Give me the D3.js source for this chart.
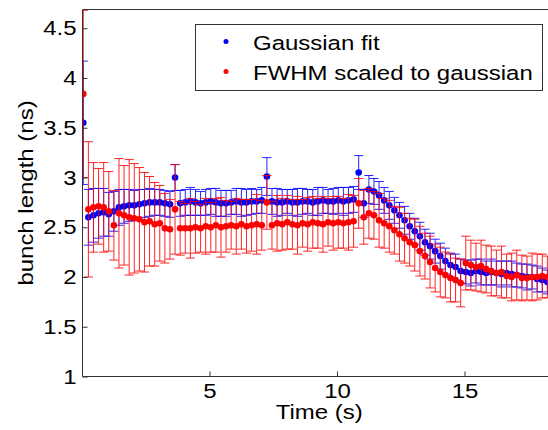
<!DOCTYPE html>
<html>
<head>
<meta charset="utf-8">
<script src="https://cdn.jsdelivr.net/npm/d3@7"></script>
<style>
  html, body { margin: 0; padding: 0; background: #fff; }
  svg { display: block; font-family: "Liberation Sans", Arial, sans-serif; }
</style>
</head>
<body>
<svg id="chart" width="548" height="430"></svg>
<script>
// ---- data ----
const time = [0.05,0.25,0.45,0.65,0.85,1.05,1.25,1.45,1.65,1.85,2.05,2.25,2.45,2.65,2.85,3.05,3.25,3.45,3.65,3.85,
  4.05,4.25,4.45,4.65,4.85,5.05,5.25,5.45,5.65,5.85,6.05,6.25,6.45,6.65,6.85,7.05,7.25,7.45,7.65,7.85,
  8.05,8.25,8.45,8.65,8.85,9.05,9.25,9.45,9.65,9.85,10.05,10.25,10.45,10.65,10.85,11.05,11.25,11.45,11.65,11.85,
  12.05,12.25,12.45,12.65,12.85,13.05,13.25,13.45,13.65,13.85,14.05,14.25,14.45,14.65,14.85,15.05,15.25,15.45,15.65,15.85,
  16.05,16.25,16.45,16.65,16.85,17.05,17.25,17.45,17.65,17.85,18.05,18.25];

const gaussFit = [3.55,2.60,2.62,2.64,2.65,2.63,2.66,2.70,2.71,2.72,2.72,2.73,2.74,2.75,2.75,2.75,2.74,2.73,3.00,2.74,
  2.75,2.76,2.75,2.74,2.75,2.76,2.75,2.74,2.74,2.75,2.76,2.75,2.75,2.76,2.76,2.77,3.01,2.76,2.75,2.75,
  2.76,2.75,2.75,2.76,2.76,2.75,2.76,2.77,2.76,2.76,2.77,2.76,2.77,2.78,3.05,2.74,2.88,2.86,2.82,2.77,
  2.72,2.67,2.62,2.57,2.51,2.46,2.41,2.35,2.31,2.26,2.21,2.16,2.12,2.10,2.06,2.05,2.04,2.06,2.05,2.04,
  2.05,2.04,2.03,2.04,2.03,2.02,2.01,2.00,2.00,1.98,1.97,1.95];
const gaussErr = [0.62,0.28,0.27,0.25,0.24,0.22,0.20,0.18,0.17,0.16,0.15,0.15,0.14,0.14,0.13,0.13,0.13,0.13,0.13,0.13,
  0.13,0.14,0.13,0.12,0.13,0.13,0.14,0.13,0.13,0.12,0.13,0.14,0.13,0.13,0.12,0.13,0.19,0.13,0.14,0.13,
  0.12,0.13,0.14,0.13,0.12,0.13,0.14,0.13,0.12,0.13,0.13,0.14,0.13,0.13,0.17,0.14,0.14,0.13,0.14,0.13,
  0.14,0.13,0.13,0.14,0.13,0.13,0.14,0.13,0.13,0.12,0.13,0.13,0.12,0.13,0.12,0.12,0.13,0.12,0.13,0.12,
  0.13,0.12,0.13,0.12,0.13,0.12,0.12,0.13,0.12,0.13,0.12,0.12];

const fwhm = [3.84,2.68,2.70,2.71,2.70,2.66,2.52,2.64,2.62,2.60,2.59,2.58,2.55,2.56,2.53,2.54,2.49,2.48,2.68,2.49,
  2.49,2.49,2.50,2.49,2.51,2.50,2.52,2.50,2.51,2.52,2.51,2.53,2.51,2.52,2.53,2.52,2.75,2.52,2.54,2.53,
  2.55,2.53,2.52,2.54,2.53,2.55,2.54,2.53,2.55,2.54,2.55,2.54,2.55,2.56,2.74,2.60,2.64,2.62,2.57,2.54,
  2.51,2.47,2.43,2.39,2.35,2.32,2.26,2.21,2.15,2.09,2.05,2.02,1.99,1.97,1.94,2.14,2.12,2.10,2.11,2.08,
  2.06,2.04,2.05,2.01,2.00,2.02,1.99,1.99,2.00,2.00,2.01,2.00];
const fwhmErr = [0.84,0.68,0.45,0.38,0.45,0.40,0.35,0.55,0.50,0.58,0.55,0.52,0.50,0.45,0.42,0.38,0.35,0.30,0.45,0.27,
  0.25,0.30,0.26,0.24,0.28,0.25,0.27,0.30,0.26,0.24,0.28,0.25,0.27,0.26,0.30,0.25,0.27,0.24,0.28,0.26,
  0.27,0.25,0.29,0.24,0.27,0.26,0.25,0.28,0.24,0.27,0.26,0.25,0.28,0.26,0.25,0.27,0.25,0.24,0.27,0.25,
  0.26,0.24,0.27,0.25,0.24,0.26,0.25,0.23,0.26,0.24,0.25,0.23,0.24,0.22,0.24,0.27,0.25,0.24,0.26,0.24,
  0.25,0.23,0.26,0.22,0.24,0.25,0.23,0.22,0.24,0.23,0.22,0.21];

const xTicks = [5, 10, 15];
const xTickLabels = ["5", "10", "15"];
const yTicks = [1, 1.5, 2, 2.5, 3, 3.5, 4, 4.5];
const yTickLabels = ["1", "1.5", "2", "2.5", "3", "3.5", "4", "4.5"];
const seriesNames = ["Gaussian fit", "FWHM scaled to gaussian"];
const seriesColors = ["#0000ff", "#ff0000"];

// ---- layout ----
const FS = 20.5;      // font size
const SX = 1.17;      // horizontal glyph stretch of the reference
const svg = d3.select("#chart");
const plot = { left: 82.5, top: 9.5, bottom: 376.5 };
const x = d3.scaleLinear().domain([0, 18.35]).range([82, 82 + 25.5 * 18.35]);
const y = d3.scaleLinear().domain([1, 4.7]).range([376.5, 376.5 - 99.5 * 3.7]);

svg.append("defs").append("clipPath").attr("id", "clip")
  .append("rect").attr("x", plot.left).attr("y", plot.top)
  .attr("width", 548 - plot.left).attr("height", plot.bottom - plot.top);

const data = [
  { name: seriesNames[0], color: seriesColors[0], vals: gaussFit, errs: gaussErr },
  { name: seriesNames[1], color: seriesColors[1], vals: fwhm, errs: fwhmErr }
];

const capHalf = 0.18; // cap half width, in seconds
const g = svg.append("g").attr("clip-path", "url(#clip)");
data.forEach(s => {
  const pts = time.map((t, i) => ({ t, v: s.vals[i], e: s.errs[i] }));
  const eg = g.append("g").attr("stroke", s.color).attr("stroke-width", 1).attr("fill", "none").attr("stroke-opacity", 0.85);
  pts.forEach(p => {
    eg.append("line").attr("x1", x(p.t)).attr("x2", x(p.t)).attr("y1", y(p.v - p.e)).attr("y2", y(p.v + p.e));
    eg.append("line").attr("x1", x(p.t - capHalf)).attr("x2", x(p.t + capHalf)).attr("y1", y(p.v + p.e)).attr("y2", y(p.v + p.e));
    eg.append("line").attr("x1", x(p.t - capHalf)).attr("x2", x(p.t + capHalf)).attr("y1", y(p.v - p.e)).attr("y2", y(p.v - p.e));
  });
  g.append("g").selectAll("circle").data(pts).join("circle")
    .attr("cx", d => x(d.t)).attr("cy", d => y(d.v)).attr("r", 3.3).attr("fill", s.color);
});

// ---- axes frame ----
const frameColor = "#333";
svg.append("line").attr("x1", plot.left).attr("x2", 548).attr("y1", plot.top).attr("y2", plot.top)
  .attr("stroke", frameColor);

const xAxis = d3.axisBottom(x).tickValues(xTicks).tickFormat((d, i) => xTickLabels[i])
  .tickSizeInner(-5).tickSizeOuter(0).tickPadding(7);
const xa = svg.append("g").attr("transform", `translate(0,${plot.bottom})`).call(xAxis);
xa.select(".domain").attr("stroke", frameColor).attr("d", `M${plot.left},0H548`);
xa.selectAll(".tick line").attr("stroke", frameColor);
xa.selectAll("text").attr("font-size", FS).attr("fill", "#000")
  .attr("font-family", "Liberation Sans, Arial, sans-serif")
  .attr("transform", `scale(${SX},1)`);

const yAxis = d3.axisLeft(y).tickValues(yTicks).tickFormat((d, i) => yTickLabels[i])
  .tickSizeInner(-5).tickSizeOuter(0).tickPadding(6);
const ya = svg.append("g").attr("transform", `translate(${plot.left},0)`).call(yAxis);
ya.select(".domain").attr("stroke", frameColor).attr("d", `M0,${plot.top}V${plot.bottom}`);
ya.selectAll(".tick line").attr("stroke", frameColor);
ya.selectAll("text").attr("font-size", FS).attr("fill", "#000")
  .attr("font-family", "Liberation Sans, Arial, sans-serif")
  .attr("x", null).attr("transform", `translate(-6,0) scale(${SX},1)`);

// ---- axis titles ----
svg.append("text").attr("transform", `translate(${x(9.3)},419) scale(${SX},1)`)
  .attr("text-anchor", "middle").attr("font-size", FS).text("Time (s)");
svg.append("text").attr("transform", `translate(33,${(plot.top + plot.bottom) / 2}) rotate(-90) scale(${SX},1)`)
  .attr("text-anchor", "middle").attr("font-size", FS).text("bunch length (ns)");

// ---- legend ----
const lg = svg.append("g");
lg.append("rect").attr("x", 195.5).attr("y", 24.5).attr("width", 347).attr("height", 66)
  .attr("fill", "#fff").attr("stroke", frameColor);
data.forEach((s, i) => {
  const cy = 41.5 + i * 30;
  lg.append("circle").attr("cx", 226).attr("cy", cy).attr("r", 2.5).attr("fill", s.color);
  lg.append("text").attr("transform", `translate(253,${cy + 8}) scale(${SX},1)`)
    .attr("font-size", FS).attr("fill", "#000").text(s.name);
});
</script>
</body>
</html>
